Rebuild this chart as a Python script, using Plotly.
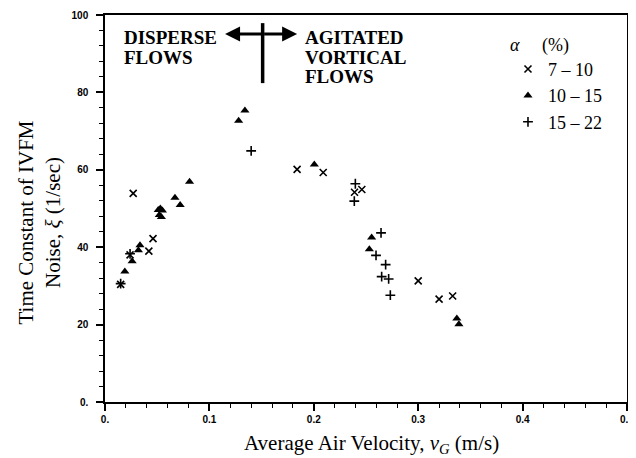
import plotly.graph_objects as go

# ---- data ----
x_7_10 = [0.015, 0.024, 0.027, 0.042, 0.046, 0.184, 0.209, 0.239, 0.246, 0.300, 0.320, 0.333]
y_7_10 = [30.4, 38.0, 53.9, 39.0, 42.2, 60.1, 59.3, 54.2, 54.9, 31.3, 26.6, 27.4]

x_10_15 = [0.019, 0.026, 0.032, 0.0335, 0.051, 0.053, 0.055, 0.052, 0.054,
           0.067, 0.072, 0.081, 0.128, 0.134, 0.2005, 0.2554, 0.2532, 0.337, 0.339]
y_10_15 = [33.7, 36.4, 39.2, 40.5, 49.6, 50.0, 49.5, 48.3, 47.8,
           52.8, 50.9, 56.9, 72.7, 75.3, 61.4, 42.5, 39.5, 21.6, 20.1]

x_15_22 = [0.015, 0.024, 0.140, 0.2398, 0.2388, 0.2644, 0.2596, 0.2688, 0.265, 0.2717, 0.2733]
y_15_22 = [30.6, 38.3, 64.9, 56.4, 51.9, 43.7, 37.9, 35.5, 32.4, 31.8, 27.6]

series_names = ["7 \u2013 10", "10 \u2013 15", "15 \u2013 22"]
x_tickvals = [0, 0.1, 0.2, 0.3, 0.4, 0.5]
x_ticktext = ["0.", "0.1", "0.2", "0.3", "0.4", "0.5"]
y_tickvals = [0, 20, 40, 60, 80, 100]
y_ticktext = ["0.", "20", "40", "60", "80", "100"]

SERIF = "Liberation Serif"
TICKFONT = dict(family="Liberation Sans", size=10, color="black", weight="bold")
BLK = "black"

fig = go.Figure()
fig.add_trace(go.Scatter(x=x_7_10, y=y_7_10, mode="markers", name=series_names[0],
                         marker=dict(symbol="x-thin", size=7, line=dict(width=1.6, color=BLK), color=BLK)))
fig.add_trace(go.Scatter(x=x_10_15, y=y_10_15, mode="markers", name=series_names[1],
                         marker=dict(symbol="triangle-up", size=8, color=BLK)))
fig.add_trace(go.Scatter(x=x_15_22, y=y_15_22, mode="markers", name=series_names[2],
                         marker=dict(symbol="cross-thin", size=7, line=dict(width=1.6, color=BLK), color=BLK)))

# annotation: flow regimes
fig.add_shape(type="line", x0=0.151, x1=0.151, y0=82.4, y1=97.9, xref="x", yref="y",
              line=dict(color=BLK, width=3.5))
for tip in (0.115, 0.184):
    fig.add_annotation(x=tip, y=95.1, ax=0.151, ay=95.1, xref="x", yref="y", axref="x", ayref="y",
                       text="", showarrow=True, arrowhead=2, arrowsize=1, arrowwidth=3, arrowcolor=BLK)

left_lines = ["DISPERSE", "FLOWS"]
right_lines = ["AGITATED", "VORTICAL", "FLOWS"]
line_y = [94.3, 89.1, 84.0]
for i, t in enumerate(left_lines):
    fig.add_annotation(x=0.0163, y=line_y[i], xref="x", yref="y", xanchor="left", yanchor="middle",
                       showarrow=False, text="<b>%s</b>" % t, font=dict(family=SERIF, size=19, color=BLK))
for i, t in enumerate(right_lines):
    fig.add_annotation(x=0.1897, y=line_y[i], xref="x", yref="y", xanchor="left", yanchor="middle",
                       showarrow=False, text="<b>%s</b>" % t, font=dict(family=SERIF, size=19, color=BLK))

# axis titles
fig.add_annotation(x=0.5, y=0, xref="paper", yref="paper", xanchor="center", yanchor="middle",
                   xshift=5, yshift=-42, showarrow=False,
                   text="Average Air Velocity, <i>v<sub>G</sub></i> (m/s)",
                   font=dict(family=SERIF, size=21, color=BLK))
fig.add_annotation(x=0, y=0.5, xref="paper", yref="paper", xanchor="center", yanchor="middle",
                   xshift=-66, yshift=-14, textangle=-90, showarrow=False,
                   text="Time Constant of IVFM<br>Noise, <i>\u03be</i> (1/sec)",
                   font=dict(family=SERIF, size=21, color=BLK))

# the page body adds an 8px offset, so the figure is sized to the visible area
fig.update_layout(
    width=628, height=450,
    margin=dict(l=97, r=9, t=7, b=56),
    paper_bgcolor="white", plot_bgcolor="white",
    showlegend=True,
    legend=dict(x=0.772, y=0.968, xanchor="left", yanchor="top",
                font=dict(family=SERIF, size=18, color=BLK),
                title=dict(text="<i>\u03b1</i>     (%)", font=dict(family=SERIF, size=18, color=BLK)),
                bgcolor="rgba(0,0,0,0)", itemwidth=30, tracegroupgap=0),
    xaxis=dict(range=[0, 0.5], tickvals=x_tickvals, ticktext=x_ticktext, automargin=False,
               ticks="outside", ticklen=7, tickwidth=1.5, tickcolor=BLK,
               minor=dict(dtick=0.02, ticks="outside", ticklen=4, tickwidth=1.2, tickcolor=BLK),
               showline=True, linecolor=BLK, linewidth=1.5, mirror=True,
               showgrid=False, zeroline=False, tickfont=TICKFONT),
    yaxis=dict(range=[0, 100], tickvals=y_tickvals, ticktext=y_ticktext, automargin=False,
               ticks="outside", ticklen=7, tickwidth=1.5, tickcolor=BLK, ticklabelstandoff=6,
               minor=dict(dtick=4, ticks="outside", ticklen=4, tickwidth=1.2, tickcolor=BLK),
               showline=True, linecolor=BLK, linewidth=1.5, mirror=True,
               showgrid=False, zeroline=False, tickfont=TICKFONT),
)

fig.write_html("out.html")
